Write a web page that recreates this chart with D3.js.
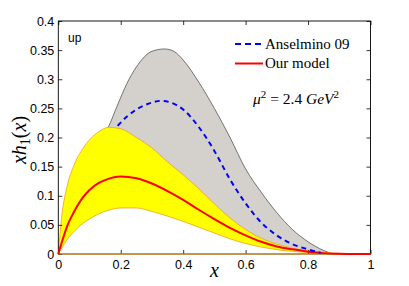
<!DOCTYPE html>
<html>
<head>
<meta charset="utf-8">
<script src="https://cdn.jsdelivr.net/npm/d3@7"></script>
<style>
  body { margin: 0; background: #fff; }
  svg { display: block; }
  .tick text { font-family: "Liberation Sans", Arial, sans-serif; font-size: 12.5px; fill: #000; }
  .tick line { stroke: #000; stroke-width: 0.8; }
</style>
</head>
<body>
<svg id="chart" width="409" height="286"></svg>
<script>
// Our model: central curve and yellow band
var modelX  = [0, 0.01, 0.03, 0.05, 0.08, 0.1, 0.13, 0.16, 0.2, 0.25, 0.3, 0.35, 0.4, 0.45, 0.5, 0.55, 0.6, 0.65, 0.7, 0.75, 0.8, 0.85, 0.9, 0.95, 1];
var modelY  = [0, 0.018, 0.05, 0.072, 0.098, 0.11, 0.122, 0.129, 0.133, 0.13, 0.121, 0.108, 0.093, 0.076, 0.06, 0.045, 0.032, 0.021, 0.013, 0.008, 0.004, 0.0015, 0.0003, 0, 0];
var modelHi = [0, 0.06, 0.12, 0.152, 0.182, 0.196, 0.21, 0.2175, 0.215, 0.2, 0.182, 0.158, 0.136, 0.112, 0.086, 0.062, 0.042, 0.027, 0.017, 0.01, 0.006, 0.003, 0.001, 0, 0];
var modelLo = [0, 0.009, 0.026, 0.038, 0.053, 0.06, 0.069, 0.075, 0.079, 0.079, 0.073, 0.065, 0.056, 0.046, 0.036, 0.026, 0.018, 0.012, 0.0075, 0.0045, 0.0025, 0.001, 0, 0, 0];

// Anselmino 09: grey band and dashed curve
var ansBandX = [0.1, 0.13, 0.16, 0.19, 0.22, 0.25, 0.3, 0.34, 0.37, 0.4, 0.45, 0.5, 0.55, 0.6, 0.65, 0.7, 0.75, 0.8, 0.85, 0.88];
var ansHi    = [0.16, 0.19, 0.2175, 0.256, 0.293, 0.321, 0.348, 0.352, 0.348, 0.333, 0.295, 0.25, 0.2, 0.146, 0.106, 0.071, 0.042, 0.021, 0.006, 0];
var ansLo    = [0.12, 0.135, 0.14, 0.145, 0.145, 0.14, 0.13, 0.12, 0.11, 0.1, 0.085, 0.068, 0.05, 0.035, 0.022, 0.014, 0.008, 0.004, 0.0015, 0];
var ansX = [0.19, 0.22, 0.25, 0.3, 0.33, 0.36, 0.4, 0.45, 0.5, 0.55, 0.6, 0.65, 0.7, 0.75, 0.8, 0.84];
var ansY = [0.22, 0.236, 0.248, 0.26, 0.263, 0.26, 0.248, 0.218, 0.177, 0.128, 0.087, 0.054, 0.032, 0.017, 0.008, 0.002];

var xTicks = [0, 0.2, 0.4, 0.6, 0.8, 1];
var yTicks = [0, 0.05, 0.1, 0.15, 0.2, 0.25, 0.3, 0.35, 0.4];
var legendLabels = ['Anselmino 09', 'Our model'];

var margin = {top: 21, right: 38.5, bottom: 32, left: 58.3};
var width = 409 - margin.left - margin.right;
var height = 286 - margin.top - margin.bottom;

var svg = d3.select('svg#chart');
var g = svg.append('g').attr('transform', 'translate(' + margin.left + ',' + margin.top + ')');

var xScale = d3.scaleLinear().domain([0, 1]).range([0, width]);
var yScale = d3.scaleLinear().domain([0, 0.4]).range([height, 0]);

function band(xs, lo, hi) {
  return xs.map(function(x, i) { return {x: x, lo: lo[i], hi: hi[i]}; });
}
function pts(xs, ys) {
  return xs.map(function(x, i) { return {x: x, y: ys[i]}; });
}

var area = d3.area().curve(d3.curveMonotoneX)
  .x(function(d) { return xScale(d.x); })
  .y0(function(d) { return yScale(d.lo); })
  .y1(function(d) { return yScale(d.hi); });
var line = d3.line().curve(d3.curveMonotoneX)
  .x(function(d) { return xScale(d.x); })
  .y(function(d) { return yScale(d.y); });

// grey band
g.append('path').datum(band(ansBandX, ansLo, ansHi)).attr('d', area).attr('fill', '#d4d0cb');
g.append('path').datum(pts(ansBandX, ansHi)).attr('d', line)
  .attr('fill', 'none').attr('stroke', '#555').attr('stroke-width', 0.8);

// yellow band
g.append('path').datum(band(modelX, modelLo, modelHi)).attr('d', area).attr('fill', '#ffff00');
g.append('path').datum(pts(modelX, modelHi)).attr('d', line)
  .attr('fill', 'none').attr('stroke', '#f0a020').attr('stroke-width', 0.8);
g.append('path').datum(pts(modelX, modelLo)).attr('d', line)
  .attr('fill', 'none').attr('stroke', '#f0a020').attr('stroke-width', 0.8);

// axes (inward ticks on all sides)
g.append('g').call(d3.axisLeft(yScale).tickValues(yTicks).tickSize(-4).tickPadding(4)
  .tickFormat(function(d) { return d3.format('')(+d.toFixed(2)); }))
  .call(function(s) { s.select('.domain').remove(); });
g.append('g').attr('transform', 'translate(0,' + height + ')')
  .call(d3.axisBottom(xScale).tickValues(xTicks).tickSize(-4).tickPadding(6)
    .tickFormat(function(d) { return d3.format('')(+d.toFixed(1)); }))
  .call(function(s) { s.select('.domain').remove(); });
g.append('g').call(d3.axisTop(xScale).tickValues(xTicks).tickSize(-4).tickFormat(''))
  .call(function(s) { s.select('.domain').remove(); });
g.append('g').attr('transform', 'translate(' + width + ',0)')
  .call(d3.axisRight(yScale).tickValues(yTicks).tickSize(-4).tickFormat(''))
  .call(function(s) { s.select('.domain').remove(); });
g.selectAll('.tick text').attr('font-size', null);
g.append('rect').attr('width', width).attr('height', height)
  .attr('fill', 'none').attr('stroke', '#000').attr('stroke-width', 0.9);

// orange baseline at zero
g.append('line').attr('x1', xScale(0)).attr('x2', xScale(1))
  .attr('y1', yScale(0)).attr('y2', yScale(0))
  .attr('stroke', '#f0a020').attr('stroke-width', 1.2);

// curves
g.append('path').datum(pts(modelX, modelY)).attr('d', line)
  .attr('fill', 'none').attr('stroke', '#ff0000').attr('stroke-width', 2);
g.append('path').datum(pts(ansX, ansY)).attr('d', line)
  .attr('fill', 'none').attr('stroke', '#0000ff').attr('stroke-width', 2)
  .attr('stroke-dasharray', '5,4');

// legend
var serif = '"Liberation Serif", "DejaVu Serif", serif';
var legend = svg.append('g').attr('transform', 'translate(235,44)');
legendLabels.forEach(function(label, i) {
  var y = i * 19.5;
  legend.append('line').attr('x1', 0).attr('x2', 28).attr('y1', y).attr('y2', y)
    .attr('stroke', i === 0 ? '#0000ff' : '#ff0000').attr('stroke-width', 2)
    .attr('stroke-dasharray', i === 0 ? '6,4' : null);
  legend.append('text').attr('x', 30).attr('y', y + 4.5)
    .attr('font-family', serif).attr('font-size', 15).text(label);
});

// mu^2 annotation
var mu = svg.append('text').attr('x', 253).attr('y', 104)
  .attr('font-family', serif).attr('font-size', 15.5);
mu.append('tspan').attr('font-style', 'italic').text('μ');
mu.append('tspan').attr('dy', -6).attr('font-size', 11).text('2');
mu.append('tspan').attr('dy', 6).text(' = 2.4 ');
mu.append('tspan').attr('font-style', 'italic').text('GeV');
mu.append('tspan').attr('dy', -6).attr('font-size', 11).text('2');

// "up" label
svg.append('text').attr('x', 68).attr('y', 42)
  .attr('font-family', '"Liberation Sans", Arial, sans-serif').attr('font-size', 12).text('up');

// axis titles
svg.append('text').attr('x', xScale(0.5) + margin.left).attr('y', 277)
  .attr('text-anchor', 'middle').attr('font-family', serif).attr('font-style', 'italic')
  .attr('font-size', 20).text('x');
var yl = svg.append('text').attr('transform', 'translate(26,140) rotate(-90)')
  .attr('text-anchor', 'middle').attr('font-family', serif).attr('font-size', 20);
yl.append('tspan').attr('font-style', 'italic').text('xh');
yl.append('tspan').attr('dy', 4).attr('font-size', 14).text('1');
yl.append('tspan').attr('dy', -4).text('(');
yl.append('tspan').attr('font-style', 'italic').text('x');
yl.append('tspan').text(')');
</script>
</body>
</html>
